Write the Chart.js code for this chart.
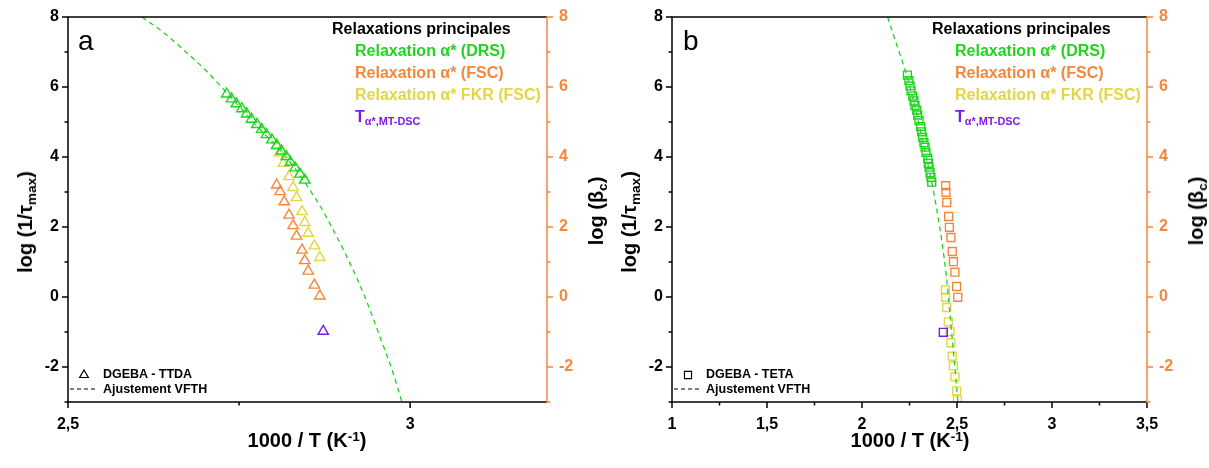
<!DOCTYPE html>
<html><head><meta charset="utf-8">
<script src="https://cdn.jsdelivr.net/npm/chart.js@4.4.1/dist/chart.umd.min.js"></script>
<style>
html,body{margin:0;padding:0;background:#fff;}
#wrap{position:relative;width:1209px;height:468px;overflow:hidden;font-family:"Liberation Sans",Arial,sans-serif;}
canvas{position:absolute;top:0;}
.t{position:absolute;white-space:nowrap;font-weight:bold;line-height:1;}
.rot{position:absolute;white-space:nowrap;font-weight:bold;line-height:1;transform:translate(-50%,-50%) rotate(-90deg);}
.sb{font-size:0.68em;position:relative;top:0.3em;}
.sp{font-size:0.68em;position:relative;top:-0.45em;}
</style>
</head><body>
<div id="wrap">
<canvas id="ca" width="605" height="468" style="left:0"></canvas>
<canvas id="cb" width="604" height="468" style="left:605px"></canvas>

<!-- panel a texts -->
<div class="t" style="left:78px;top:27px;font-size:28px;font-weight:normal">a</div>
<div class="t" style="left:332px;top:21px;font-size:16px;color:#000">Relaxations principales</div>
<div class="t" style="left:355px;top:43px;font-size:16px;color:#1fd51f">Relaxation α* (DRS)</div>
<div class="t" style="left:355px;top:65px;font-size:16px;color:#f5873c">Relaxation α* (FSC)</div>
<div class="t" style="left:355px;top:87px;font-size:16px;color:#e3d642">Relaxation α* FKR (FSC)</div>
<div class="t" style="left:355px;top:109px;font-size:16px;color:#7b1be6">T<span class="sb">α*,MT-DSC</span></div>
<div class="t" style="left:103px;top:368px;font-size:12.5px;color:#000">DGEBA - TTDA</div>
<div class="t" style="left:103px;top:383px;font-size:12.5px;color:#000">Ajustement VFTH</div>
<div class="t" style="left:307px;font-size:20px;width:0;display:flex;justify-content:center;top:430px"><span style="white-space:nowrap">1000 / T (K<span class="sp">-1</span>)</span></div>
<div class="rot" style="left:25px;top:222px;font-size:20px">log (1/τ<span class="sb">max</span>)</div>
<div class="rot" style="left:596px;top:211px;font-size:20px">log (β<span class="sb">c</span>)</div>

<!-- panel b texts -->
<div class="t" style="left:683px;top:27px;font-size:28px;font-weight:normal">b</div>
<div class="t" style="left:932px;top:21px;font-size:16px;color:#000">Relaxations principales</div>
<div class="t" style="left:955px;top:43px;font-size:16px;color:#1fd51f">Relaxation α* (DRS)</div>
<div class="t" style="left:955px;top:65px;font-size:16px;color:#f5873c">Relaxation α* (FSC)</div>
<div class="t" style="left:955px;top:87px;font-size:16px;color:#e3d642">Relaxation α* FKR (FSC)</div>
<div class="t" style="left:955px;top:109px;font-size:16px;color:#7b1be6">T<span class="sb">α*,MT-DSC</span></div>
<div class="t" style="left:706px;top:368px;font-size:12.5px;color:#000">DGEBA - TETA</div>
<div class="t" style="left:706px;top:383px;font-size:12.5px;color:#000">Ajustement VFTH</div>
<div class="t" style="left:910px;font-size:20px;width:0;display:flex;justify-content:center;top:430px"><span style="white-space:nowrap">1000 / T (K<span class="sp">-1</span>)</span></div>
<div class="rot" style="left:629px;top:222px;font-size:20px">log (1/τ<span class="sb">max</span>)</div>
<div class="rot" style="left:1196px;top:211px;font-size:20px">log (β<span class="sb">c</span>)</div>
</div>

<script>
// ---------- Panel a : DGEBA - TTDA ----------
const aDrsX = [2.732,2.739,2.746,2.754,2.761,2.768,2.776,2.783,2.790,2.798,2.805,2.812,2.819,2.825,2.832,2.839,2.846];
const aDrsY = [5.80,5.66,5.52,5.38,5.23,5.08,4.93,4.79,4.64,4.49,4.33,4.17,4.01,3.85,3.69,3.51,3.34];
const aFscX = [2.805,2.810,2.816,2.823,2.829,2.834,2.842,2.846,2.851,2.860,2.868];
const aFscY = [3.20,3.01,2.72,2.34,2.04,1.74,1.34,1.04,0.74,0.34,0.03];
const aFkrX = [2.805,2.809,2.815,2.823,2.829,2.834,2.842,2.846,2.851,2.860,2.868];
const aFkrY = [4.33,4.12,3.82,3.44,3.13,2.84,2.44,2.13,1.82,1.46,1.13];
const aMtX = [2.873];
const aMtY = [-0.98];
const aFitX = [2.608,2.640,2.669,2.700,2.728,2.755,2.780,2.805,2.830,2.852,2.870,2.884,2.905,2.923,2.940,2.957,2.973,2.988];
const aFitY = [8.00,7.55,7.06,6.50,5.92,5.35,4.80,4.30,3.72,3.10,2.55,2.05,1.25,0.50,-0.30,-1.20,-2.05,-3.00];

// ---------- Panel b : DGEBA - TETA ----------
const bDrsX = [2.239,2.247,2.253,2.258,2.267,2.274,2.279,2.288,2.293,2.300,2.309,2.314,2.319,2.326,2.332,2.337,2.346,2.349,2.353,2.358,2.363,2.367];
const bDrsY = [6.34,6.18,6.03,5.89,5.74,5.60,5.47,5.34,5.20,5.04,4.87,4.72,4.56,4.41,4.28,4.13,3.96,3.82,3.71,3.55,3.42,3.28];
const bFscX = [2.440,2.442,2.446,2.456,2.460,2.468,2.475,2.481,2.489,2.498,2.504];
const bFscY = [3.18,2.99,2.70,2.30,1.99,1.70,1.30,1.01,0.71,0.30,-0.01];
const bFkrX = [2.439,2.440,2.446,2.454,2.463,2.468,2.475,2.481,2.489,2.498,2.502];
const bFkrY = [0.20,-0.01,-0.30,-0.71,-0.99,-1.31,-1.69,-1.97,-2.28,-2.68,-2.94];
const bMtX = [2.428];
const bMtY = [-1.01];
const bFitX = [2.135,2.180,2.220,2.250,2.280,2.310,2.340,2.370,2.395,2.420,2.445,2.460,2.475,2.490,2.505];
const bFitY = [8.00,7.25,6.60,6.05,5.40,4.70,3.95,3.20,2.45,1.60,0.55,-0.30,-1.20,-2.10,-3.00];

// ---------- Axes ----------
const yMin = -3, yMax = 8;
const yLabelled = [8,6,4,2,0,-2];
const aXMin = 2.5, aXMax = 3.2;
const bXMin = 1, bXMax = 3.5;
const xLabelled = [1,1.5,2,2.5,3,3.5];

const GREEN = '#1fd51f', ORANGE = '#f5873c', YELLOW = '#e3d642', PURPLE = '#7b1be6';
const FONT = '"Liberation Sans", Arial, sans-serif';

function pts(xs, ys){ return xs.map((x,i)=>({x:x,y:ys[i]})); }
function fmtX(v){ const k = xLabelled.find(l=>Math.abs(l-v)<1e-6); return k===undefined ? '' : String(k).replace('.',','); }
function fmtY(v){ return yLabelled.includes(v) ? String(v) : ''; }

const framePlugin = {
  id:'frame',
  afterDraw(chart, args, opts){
    const ctx = chart.ctx, a = chart.chartArea;
    const xs = chart.scales.x, ys = chart.scales.y;
    ctx.save();
    ctx.lineWidth = 1.5;
    ctx.strokeStyle = '#000';
    ys.ticks.forEach(t=>{
      const p = ys.getPixelForValue(t.value); const L = fmtY(t.value)?6:3.5;
      ctx.beginPath(); ctx.moveTo(a.left-L,p); ctx.lineTo(a.left,p); ctx.stroke();
    });
    xs.ticks.forEach(t=>{
      const p = xs.getPixelForValue(t.value); const L = fmtX(t.value)?6:3.5;
      ctx.beginPath(); ctx.moveTo(p,a.bottom); ctx.lineTo(p,a.bottom+L); ctx.stroke();
    });
    ctx.beginPath();
    ctx.moveTo(a.right,a.top); ctx.lineTo(a.left,a.top); ctx.lineTo(a.left,a.bottom); ctx.lineTo(a.right,a.bottom);
    ctx.stroke();
    ctx.strokeStyle = ORANGE;
    ys.ticks.forEach(t=>{
      const p = ys.getPixelForValue(t.value); const L = fmtY(t.value)?6:3.5;
      ctx.beginPath(); ctx.moveTo(a.right,p); ctx.lineTo(a.right+L,p); ctx.stroke();
    });
    ctx.beginPath(); ctx.moveTo(a.right,a.top-0.75); ctx.lineTo(a.right,a.bottom+0.75); ctx.stroke();
    // bottom-left legend symbols
    ctx.strokeStyle = '#000'; ctx.fillStyle = 'rgba(0,0,0,0)'; ctx.lineWidth = 1.2;
    Chart.helpers.drawPoint(ctx, {pointStyle: opts.symbol, radius: 5, borderWidth:1.2}, a.left+16, 375);
    ctx.setLineDash([4,3]);
    ctx.beginPath(); ctx.moveTo(a.left+2, 389); ctx.lineTo(a.left+30, 389); ctx.stroke();
    ctx.restore();
  }
};

function makeChart(id, cfg){
  const scat = (data, color) => ({
    data: data, showLine:false, pointStyle: cfg.symbol, pointRadius: cfg.radius,
    pointBorderWidth: 1.4, pointBorderColor: color, pointBackgroundColor: 'rgba(0,0,0,0)',
    pointHoverRadius: cfg.radius
  });
  return new Chart(document.getElementById(id), {
    type:'scatter',
    data:{ datasets:[
      {data: pts(cfg.fitX,cfg.fitY), showLine:true, pointRadius:0, borderColor:GREEN, borderWidth:1.3,
       borderDash:[5,4], cubicInterpolationMode:'monotone', fill:false},
      scat(pts(cfg.drsX,cfg.drsY), GREEN),
      scat(pts(cfg.mtX,cfg.mtY), PURPLE),
      scat(pts(cfg.fscX,cfg.fscY), ORANGE),
      scat(pts(cfg.fkrX,cfg.fkrY), YELLOW)
    ]},
    options:{
      responsive:false, animation:false, events:[],
      layout:{padding:{top:17,left:0,right:0,bottom:0}, autoPadding:false},
      plugins:{legend:{display:false}, tooltip:{enabled:false}, frame:{symbol:cfg.symbol}},
      scales:{
        x:{type:'linear', position:'bottom', min:cfg.xMin, max:cfg.xMax,
           grid:{display:false}, border:{display:false},
           ticks:{stepSize:0.25, includeBounds:false, autoSkip:false, maxRotation:0, padding:5,
                  color:'#000', font:{family:FONT, size:16, weight:'bold'}, callback:v=>fmtX(v)},
           afterFit(s){ s.height = 66; }},
        y:{type:'linear', position:'left', min:yMin, max:yMax,
           grid:{display:false}, border:{display:false},
           ticks:{stepSize:1, autoSkip:false, padding:1, color:'#000',
                  font:{family:FONT, size:16, weight:'bold'}, callback:v=>fmtY(v)},
           afterFit(s){ s.width = cfg.leftW; }},
        y2:{type:'linear', position:'right', min:yMin, max:yMax,
           grid:{display:false}, border:{display:false},
           ticks:{stepSize:1, autoSkip:false, padding:4, color:ORANGE,
                  font:{family:FONT, size:16, weight:'bold'}, callback:v=>fmtY(v)},
           afterFit(s){ s.width = cfg.rightW; }}
      }
    },
    plugins:[framePlugin]
  });
}

makeChart('ca', {symbol:'triangle', radius:6, xMin:aXMin, xMax:aXMax, leftW:68, rightW:58,
  drsX:aDrsX, drsY:aDrsY, fscX:aFscX, fscY:aFscY, fkrX:aFkrX, fkrY:aFkrY, mtX:aMtX, mtY:aMtY, fitX:aFitX, fitY:aFitY});
makeChart('cb', {symbol:'rect', radius:5.6, xMin:bXMin, xMax:bXMax, leftW:67, rightW:62,
  drsX:bDrsX, drsY:bDrsY, fscX:bFscX, fscY:bFscY, fkrX:bFkrX, fkrY:bFkrY, mtX:bMtX, mtY:bMtY, fitX:bFitX, fitY:bFitY});
</script>
</body></html>
